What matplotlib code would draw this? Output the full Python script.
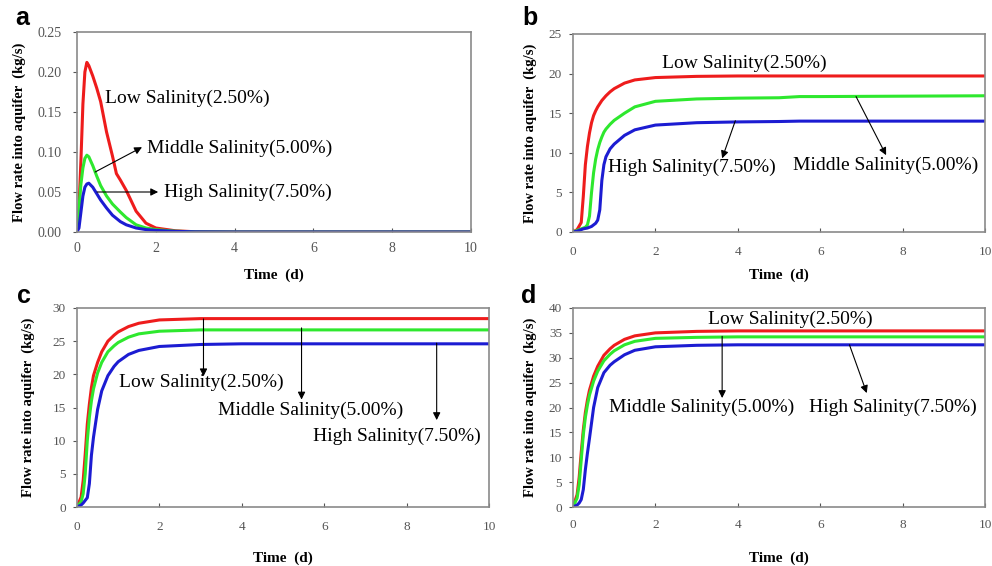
import matplotlib.pyplot as plt

# ---- data ----
t_a = [0, 0.05, 0.1, 0.15, 0.2, 0.25, 0.3, 0.4, 0.5, 0.6, 0.75, 0.9, 1.0, 1.1,
       1.25, 1.5, 1.75, 2.0, 2.5, 3.0, 4.0, 10.0]
low_a = [0, 0.03, 0.09, 0.16, 0.20, 0.212, 0.208, 0.195, 0.18, 0.163, 0.125, 0.095,
         0.073, 0.065, 0.052, 0.026, 0.011, 0.005, 0.0015, 0.0003, 0, 0]
mid_a = [0, 0.03, 0.06, 0.08, 0.092, 0.096, 0.094, 0.083, 0.07, 0.058, 0.045, 0.035,
         0.03, 0.025, 0.018, 0.009, 0.005, 0.003, 0.001, 0.0002, 0, 0]
high_a = [0, 0.005, 0.025, 0.045, 0.056, 0.060, 0.061, 0.056, 0.048, 0.04, 0.03, 0.021,
          0.017, 0.013, 0.009, 0.005, 0.003, 0.002, 0.0008, 0.0002, 0, 0]

t_b = [0, 0.1, 0.2, 0.25, 0.3, 0.35, 0.4, 0.45, 0.5, 0.55, 0.6, 0.65, 0.7, 0.75, 0.8,
       0.9, 1.0, 1.25, 1.5, 2.0, 3.0, 4.0, 5.0, 5.5, 6.0, 8.0, 10.0]
low_b = [0, 0.3, 1.2, 4.5, 8.5, 10.8, 12.5, 13.8, 14.7, 15.3, 15.8, 16.2, 16.6, 16.9,
         17.2, 17.7, 18.1, 18.8, 19.2, 19.5, 19.65, 19.7, 19.7, 19.7, 19.7, 19.7, 19.7]
mid_b = [0, 0.2, 0.4, 0.5, 0.6, 0.9, 2.0, 5.0, 7.5, 9.2, 10.4, 11.3, 12.0, 12.6, 13.0,
         13.6, 14.1, 15.0, 15.8, 16.5, 16.8, 16.9, 16.95, 17.1, 17.1, 17.15, 17.2]
high_b = [0, 0.1, 0.3, 0.4, 0.45, 0.5, 0.6, 0.7, 0.9, 1.1, 1.5, 2.8, 6.5, 8.5, 9.5,
          10.5, 11.1, 12.2, 12.9, 13.5, 13.8, 13.9, 13.95, 14.0, 14.0, 14.0, 14.0]

t_cd = [0, 0.1, 0.15, 0.2, 0.25, 0.3, 0.35, 0.4, 0.5, 0.6, 0.75, 0.9, 1.0, 1.25, 1.5,
        2.0, 3.0, 4.0, 6.0, 10.0]
low_c = [0, 1.5, 4, 8, 12.5, 15.5, 18, 19.8, 21.8, 23.4, 25.0, 25.9, 26.4, 27.2, 27.7,
         28.2, 28.4, 28.4, 28.4, 28.4]
mid_c = [0, 0.8, 2, 5, 10, 13.5, 16, 17.8, 20.2, 21.8, 23.4, 24.3, 24.8, 25.6, 26.1,
         26.5, 26.7, 26.7, 26.7, 26.7]
high_c = [0, 0.3, 0.6, 1.0, 1.4, 3.5, 7.8, 10.5, 14.7, 17.5, 19.8, 21.2, 21.9, 23.0,
          23.6, 24.2, 24.5, 24.6, 24.6, 24.6]

low_d = [0, 2.5, 6, 11, 15.5, 19, 21.5, 23.5, 26.3, 28.3, 30.5, 31.8, 32.5, 33.7, 34.4,
         35.0, 35.3, 35.4, 35.4, 35.4]
mid_d = [0, 1.8, 4.5, 9.5, 14.5, 18, 20.5, 22.5, 25.3, 27.3, 29.4, 30.7, 31.4, 32.6,
         33.3, 33.9, 34.1, 34.2, 34.2, 34.2]
high_d = [0, 0.4, 0.8, 1.5, 3.5, 7.5, 10.8, 13.8, 20.0, 24.0, 27.0, 28.5, 29.2, 30.6,
          31.5, 32.2, 32.5, 32.6, 32.6, 32.6]

label_low = "Low Salinity(2.50%)"
label_mid = "Middle Salinity(5.00%)"
label_high = "High Salinity(7.50%)"

colors = {"low": "#ee1c1c", "mid": "#2ee82e", "high": "#1c1cd2"}
serif = ["Liberation Serif", "DejaVu Serif"]

fig = plt.figure(figsize=(9.92, 5.66), dpi=100)
W, H = 992.0, 566.0


def make_axes(left, right, top, bottom):
    ax = fig.add_axes([left / W, 1 - bottom / H, (right - left) / W, (bottom - top) / H])
    ax.px = (left, right, top, bottom)
    return ax


def style(ax, ymax, ystep, yfmt, tick_size, xpad, ypad, ylab_x, xlab_y):
    ax.set_xlim(0, 10)
    ax.set_ylim(0, ymax)
    ax.set_xticks(range(0, 11, 2))
    n = int(round(ymax / ystep))
    yt = [i * ystep for i in range(n + 1)]
    ax.set_yticks(yt)
    ax.set_yticklabels([yfmt.format(v) for v in yt])
    for s in ax.spines.values():
        s.set_color("#8a8a8a")
        s.set_linewidth(1.2)
    ax.tick_params(axis="x", direction="in", length=3, color="#555555", pad=xpad)
    ax.tick_params(axis="y", direction="out", length=3, color="#555555", pad=ypad)
    for lab in ax.get_xticklabels() + ax.get_yticklabels():
        lab.set_family(serif)
        lab.set_fontsize(tick_size)
        lab.set_color("#555555")
    ax.set_xlabel("Time  (d)", family=serif, fontsize=11, fontweight="bold")
    ax.set_ylabel("Flow rate into aquifer  (kg/s)", family=serif, fontsize=10.5,
                  fontweight="bold")
    left, right, top, bottom = ax.px
    ax.yaxis.set_label_coords((ylab_x - left) / (right - left), 0.5)
    ax.xaxis.set_label_coords(0.5, -(xlab_y - bottom) / (bottom - top))
    ax.xaxis.label.set_va("center")
    ax.yaxis.label.set_va("center")


def curves(ax, t, low, mid, high):
    ax.plot(t, low, color=colors["low"], lw=2.2)
    ax.plot(t, mid, color=colors["mid"], lw=2.2)
    ax.plot(t, high, color=colors["high"], lw=2.2)


def label(ax, x, y, s):
    ax.text(x, y, s, family=serif, fontsize=14, va="center", ha="left")


def arrow(ax, tail, head):
    ax.annotate("", xy=head, xytext=tail,
                arrowprops=dict(arrowstyle="-|>", color="black", lw=0.8,
                                mutation_scale=11, shrinkA=0, shrinkB=0))


# panel a
ax = make_axes(77, 471, 32, 232)
curves(ax, t_a, low_a, mid_a, high_a)
style(ax, 0.25, 0.05, "{:.2f}", 10, 7, 8, 19, 275)
label(ax, 0.71, 0.1675, label_low)
label(ax, 1.78, 0.105, label_mid)
label(ax, 2.2, 0.049, label_high)
arrow(ax, (0.46, 0.075), (1.65, 0.106))
arrow(ax, (0.51, 0.05), (2.06, 0.05))

# panel b
ax = make_axes(573, 985, 34, 232)
curves(ax, t_b, low_b, mid_b, high_b)
style(ax, 25, 5, "{:.0f}", 9.5, 10, 5, 530, 275)
label(ax, 2.15, 21.3, label_low)
label(ax, 0.84, 8.2, label_high)
label(ax, 5.33, 8.46, label_mid)
arrow(ax, (3.94, 14.05), (3.62, 9.3))
arrow(ax, (6.87, 17.1), (7.6, 9.7))

# panel c
ax = make_axes(77, 489, 308, 507)
curves(ax, t_cd, low_c, mid_c, high_c)
style(ax, 30, 5, "{:.0f}", 9.5, 10, 5, 28, 558)
label(ax, 1.02, 18.85, label_low)
label(ax, 3.43, 14.5, label_mid)
label(ax, 5.74, 10.66, label_high)
arrow(ax, (3.07, 28.35), (3.07, 19.7))
arrow(ax, (5.45, 27.0), (5.45, 16.2))
arrow(ax, (8.73, 24.7), (8.73, 13.1))

# panel d
ax = make_axes(573, 985, 308, 507)
curves(ax, t_cd, low_d, mid_d, high_d)
style(ax, 40, 5, "{:.0f}", 9.5, 9, 5, 530, 558)
label(ax, 3.27, 37.8, label_low)
label(ax, 0.88, 20.1, label_mid)
label(ax, 5.72, 20.1, label_high)
arrow(ax, (3.62, 34.3), (3.62, 21.9))
arrow(ax, (6.71, 32.6), (7.13, 22.9))

# panel letters
for s, x, y in [("a", 15, 25), ("b", 522, 25), ("c", 17, 303), ("d", 521, 303)]:
    fig.text(x / W, 1 - y / H, s, family=["Liberation Sans", "DejaVu Sans"],
             fontsize=18, fontweight="bold", va="baseline", ha="left")

fig.savefig("out.png", dpi=100)
